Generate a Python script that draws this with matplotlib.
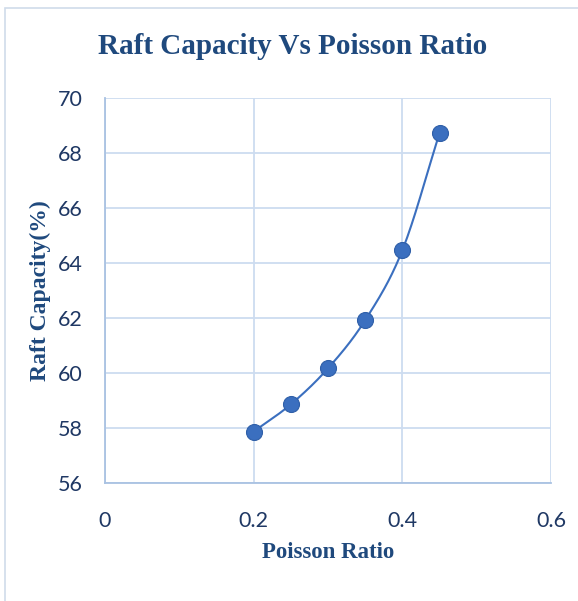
import numpy as np
import matplotlib.pyplot as plt
from matplotlib.patches import Rectangle

poisson_ratio = [0.2, 0.25, 0.3, 0.35, 0.4, 0.45]
raft_capacity = [57.87, 58.86, 60.17, 61.92, 64.46, 68.72]

x_ticks = [0, 0.2, 0.4, 0.6]
y_ticks = [56, 58, 60, 62, 64, 66, 68, 70]


def smooth(x, y, n=30):
    # catmull-rom through the points, like the smoothed line in excel
    x = np.asarray(x, float)
    y = np.asarray(y, float)
    px = np.concatenate([[2 * x[0] - x[1]], x, [2 * x[-1] - x[-2]]])
    py = np.concatenate([[2 * y[0] - y[1]], y, [2 * y[-1] - y[-2]]])
    xs, ys = [], []
    t = np.linspace(0, 1, n)
    for i in range(1, len(px) - 2):
        for p, out in ((px, xs), (py, ys)):
            p0, p1, p2, p3 = p[i - 1], p[i], p[i + 1], p[i + 2]
            out.extend(0.5 * (2 * p1 + (-p0 + p2) * t
                              + (2 * p0 - 5 * p1 + 4 * p2 - p3) * t ** 2
                              + (-p0 + 3 * p1 - 3 * p2 + p3) * t ** 3))
    return xs, ys


dark_blue = "#1f497d"
tick_color = "#1f3864"
grid_color = "#cddcf0"
point_color = "#3b6fbf"

fig = plt.figure(figsize=(5.78, 6.01), dpi=100)
fig.patches.append(Rectangle((5 / 578, -0.1), 1.2, 1 - 8 / 601 + 0.1,
                             transform=fig.transFigure, fill=False,
                             edgecolor="#d0dcea", linewidth=1.2))

ax = fig.add_axes([105 / 578, 1 - 483 / 601, 446 / 578, 385 / 601])

sx, sy = smooth(poisson_ratio, raft_capacity)
ax.plot(sx, sy, color=point_color, linewidth=1.5, zorder=3)
ax.plot(poisson_ratio, raft_capacity, linestyle="none", marker="o",
        markersize=11.5, color=point_color, markeredgecolor="#2f5fa8",
        markeredgewidth=0.8, zorder=4)

ax.set_xlim(0, 0.6)
ax.set_ylim(56, 70)
ax.set_xticks(x_ticks)
ax.set_xticklabels(["0", "0.2", "0.4", "0.6"])
ax.set_yticks(y_ticks)
ax.grid(True, color=grid_color, linewidth=1.3)
ax.set_axisbelow(True)
for side in ["top", "right"]:
    ax.spines[side].set_visible(False)
for side in ["left", "bottom"]:
    ax.spines[side].set_color("#a9c2e2")
    ax.spines[side].set_linewidth(1.3)
ax.tick_params(length=0, labelsize=15.5, labelcolor=tick_color)
ax.tick_params(axis="x", pad=20)
ax.tick_params(axis="y", pad=16)
for lab in ax.get_xticklabels() + ax.get_yticklabels():
    lab.set_fontfamily("Lato")

fig.text(293 / 578, 1 - 47 / 601, "Raft Capacity Vs Poisson Ratio",
         ha="center", va="center", fontsize=21, fontweight="bold",
         family="Liberation Serif", color=dark_blue)
ax.set_xlabel("Poisson Ratio", fontsize=16.5, fontweight="bold",
              family="Liberation Serif", color=dark_blue, labelpad=8)
ax.set_ylabel("Raft Capacity(%)", fontsize=17, fontweight="bold",
              family="Liberation Serif", color=dark_blue, labelpad=5)

fig.savefig("out.png", dpi=100)
